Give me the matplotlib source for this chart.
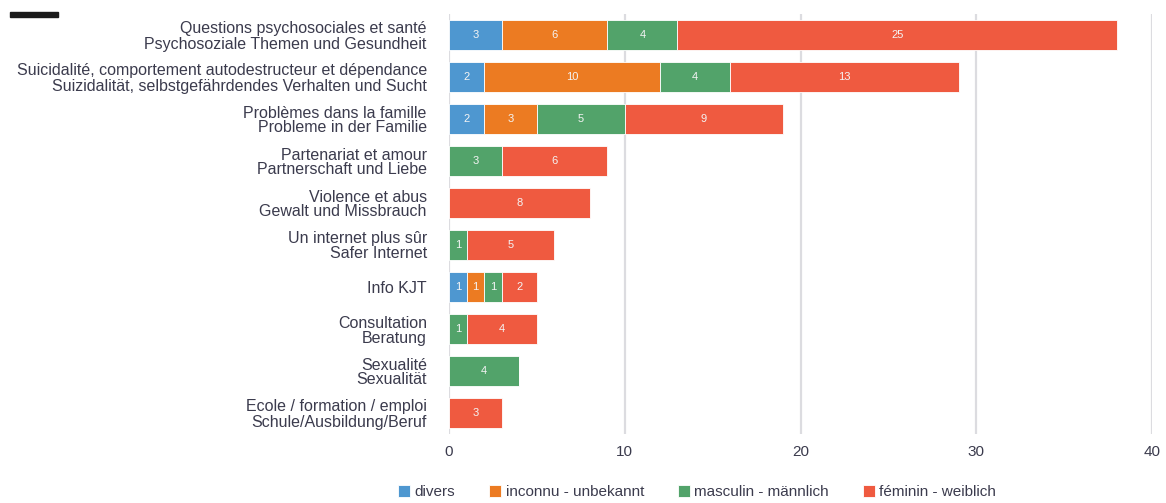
import matplotlib
matplotlib.use('Agg')

import matplotlib.pyplot as plt
from matplotlib.patches import Rectangle
import numpy as np

# topics, top to bottom (French / German)
topics = [
    'Questions psychosociales et santé\nPsychosoziale Themen und Gesundheit',
    'Suicidalité, comportement autodestructeur et dépendance\nSuizidalität, selbstgefährdendes Verhalten und Sucht',
    'Problèmes dans la famille\nProbleme in der Familie',
    'Partenariat et amour\nPartnerschaft und Liebe',
    'Violence et abus\nGewalt und Missbrauch',
    'Un internet plus sûr\nSafer Internet',
    'Info KJT',
    'Consultation\nBeratung',
    'Sexualité\nSexualität',
    'Ecole / formation / emploi\nSchule/Ausbildung/Beruf',
]

divers = [3, 2, 2, 0, 0, 0, 1, 0, 0, 0]
inconnu = [6, 10, 3, 0, 0, 0, 1, 0, 0, 0]
masculin = [4, 4, 5, 3, 0, 1, 1, 1, 4, 0]
feminin = [25, 13, 9, 6, 8, 5, 2, 4, 0, 3]

series = [
    ('divers', divers, '#4e97d0'),
    ('inconnu - unbekannt', inconnu, '#ec7b22'),
    ('masculin - männlich', masculin, '#52a36a'),
    ('féminin - weiblich', feminin, '#ef5a40'),
]

plt.rcParams['font.family'] = ['Liberation Sans', 'DejaVu Sans']
text_col = '#3b3b4d'

fig = plt.figure(figsize=(11.66, 5.03), dpi=100)
ax = fig.add_axes([449 / 1166, 1 - 434 / 503, (1152 - 449) / 1166, 420 / 503])

y = np.arange(len(topics))
left = np.zeros(len(topics))
for name, vals, col in series:
    vals = np.array(vals, dtype=float)
    bars = ax.barh(y, vals, left=left, height=0.71, color=col, label=name,
                   edgecolor='white', linewidth=0.6, zorder=3)
    for b, v in zip(bars, vals):
        if v > 0:
            ax.text(b.get_x() + b.get_width() / 2, b.get_y() + b.get_height() / 2,
                    '%d' % v, color='#f4f4f4', ha='center', va='center',
                    fontsize=8, zorder=4)
    left += vals

ax.set_ylim(len(topics) - 0.5, -0.5)
ax.set_xlim(0, 40)
ax.set_xticks([0, 10, 20, 30, 40])
ax.set_yticks(y)
ax.set_yticklabels(topics, fontsize=11.5, color=text_col, linespacing=1.0)
ax.tick_params(axis='y', length=0, pad=16)
ax.tick_params(axis='x', length=0, pad=8, labelsize=11, labelcolor=text_col)
ax.grid(axis='x', color='#dcdce0', linewidth=1.6, zorder=0)
for s in ax.spines.values():
    s.set_visible(False)

fig.legend(loc='center', bbox_to_anchor=(697 / 1166, 1 - 492 / 503), ncol=4,
           frameon=False, fontsize=11, handlelength=0.8, handleheight=0.8,
           handletextpad=0.3, columnspacing=2.2, labelcolor=text_col)

# small dark bar in the corner
fig.patches.append(Rectangle((10 / 1166, 1 - 17 / 503), 48 / 1166, 5 / 503,
                             transform=fig.transFigure, color='#1a1a1a'))

plt.savefig('out.png', dpi=100)
